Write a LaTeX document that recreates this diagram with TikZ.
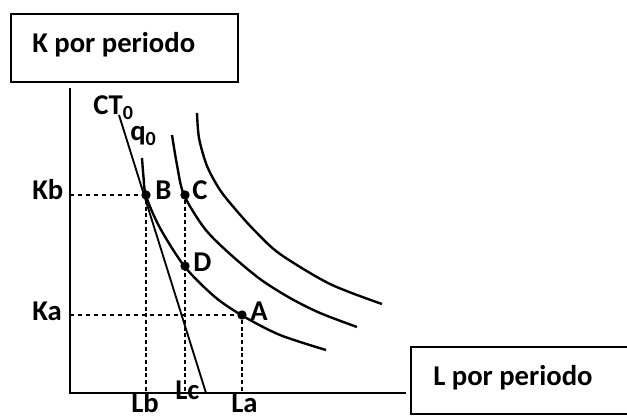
\documentclass[tikz,border=0pt]{standalone}
\usepackage{fontspec}
\setmainfont{Carlito}
\begin{document}
\begin{tikzpicture}[
    x=0.75pt, y=-0.75pt,
    lab/.style={font=\fontsize{21.5}{26}\selectfont\bfseries, inner sep=0pt, anchor=base west},
    dot/.style={circle, fill=black, inner sep=0pt, minimum size=7pt},
    iso/.style={line width=1.8pt},
    hdash/.style={dashed, line width=1pt},
    vdash/.style={densely dashed, line width=1.3pt},
    box/.style={draw, line width=1.1pt}]
  \useasboundingbox (0,0) rectangle (627,416);
  % axes and their titles
  \coordinate (O)    at (70,393);
  \coordinate (ytop) at (70,88);
  \coordinate (xend) at (406,393);
  \draw[line width=1.5pt] (ytop) -- (O) -- (xend);
  \draw[box] (11,14) rectangle (238,82);
  \node[lab] (ktitle) at (32,53) {K por periodo};
  \draw[box] (411,347) rectangle (640,414);
  \node[lab] (ltitle) at (433,385) {L por periodo};
  % cost line
  \coordinate (cttop) at (119,115);
  \coordinate (ctend) at (206,393);
  \draw[line width=1.4pt] (cttop) -- (ctend);
  % isoquants
  \draw[iso] plot[smooth] coordinates {(142,158) (143.5,177) (146,196) (160,228)
    (185,267) (215,297) (243,316) (280,335) (326,350)};
  \draw[iso] plot[smooth] coordinates {(172,135) (177,165) (184,195) (205,229)
    (230,254) (260,279) (290,298) (320,313) (357,327)};
  \draw[iso] plot[smooth] coordinates {(197,113) (199,138) (207,166) (220,190)
    (236,210) (255,231) (280,254) (330,284) (382,304)};
  % points
  \node[dot] (B) at (146,195) {};
  \node[dot] (C) at (185,195) {};
  \node[dot] (D) at (185,266) {};
  \node[dot] (A) at (242,315) {};
  \draw[hdash] (O |- B) -- (B);
  \draw[hdash] (O |- A) -- (A);
  \draw[vdash] (B) -- (B |- O);
  \draw[vdash] (C) -- (C |- O);
  \draw[vdash] (A) -- (A |- O);
  % labels
  \node[lab] (lct) at (93,115)  {CT\textsubscript{0}};
  \node[lab] (lq)  at (130,141) {q\textsubscript{0}};
  \node[lab] (lB)  at (155,200) {B};
  \node[lab] (lC)  at (192,200) {C};
  \node[lab] (lD)  at (193,272) {D};
  \node[lab] (lA)  at (250,320) {A};
  \node[lab] (lKb) at (32,200)  {Kb};
  \node[lab] (lKa) at (32,320)  {Ka};
  \node[lab] (lLb) at (131,412) {Lb};
  \node[lab] (lLc) at (175,399) {Lc};
  \node[lab] (lLa) at (231,412) {La};
\end{tikzpicture}
\end{document}
